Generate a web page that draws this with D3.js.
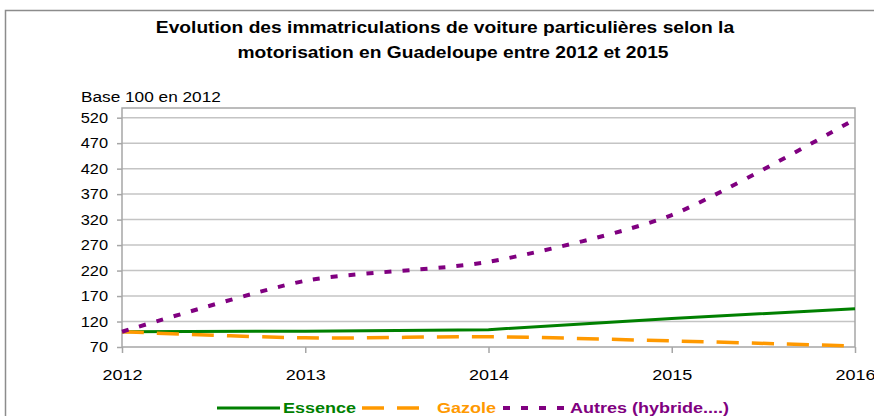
<!DOCTYPE html>
<meta charset="utf-8">
<head>
<title>Immatriculations Guadeloupe</title>
</head>
<style>
html, body { margin: 0; background: #fff; overflow: hidden; }
text { font-family: Arial, "Liberation Sans", sans-serif; }
</style>
<body>
<script src="https://d3js.org/d3.v7.min.js"></script>
<script>

// data (base 100 en 2012)
var years = [2012, 2013, 2014, 2015, 2016];
var essence = [100, 101, 104, 126, 145];
var gazole = [100, 88, 90, 82, 72];
var autres = [100, 200, 237, 329, 517];
var yTicks = [70, 120, 170, 220, 270, 320, 370, 420, 470, 520];

var width = 874, height = 416;
var svg = d3.select("body").append("svg")
    .attr("width", width)
    .attr("height", height);

// the reference glyphs look a bit wider than Arial, stretch them
function stretch(sel, k) {
    sel.each(function () {
        var w = this.getComputedTextLength();
        d3.select(this).attr("textLength", w * k).attr("lengthAdjust", "spacingAndGlyphs");
    });
}

// outer chart frame
svg.append("rect")
    .attr("x", 5.5).attr("y", 10.5)
    .attr("width", 880).attr("height", 420)
    .attr("fill", "none")
    .attr("stroke", "#8c8c8c")
    .attr("stroke-width", 1.5);

// title
var t1 = svg.append("text")
    .attr("x", 445).attr("y", 33)
    .attr("text-anchor", "middle")
    .attr("font-size", "16px")
    .attr("font-weight", "bold")
    .text("Evolution des immatriculations de voiture particulières selon la");
var t2 = svg.append("text")
    .attr("x", 453).attr("y", 58)
    .attr("text-anchor", "middle")
    .attr("font-size", "16px")
    .attr("font-weight", "bold")
    .text("motorisation en Guadeloupe entre 2012 et 2015");
stretch(t1, 1.2);
stretch(t2, 1.2);

var base = svg.append("text")
    .attr("x", 81).attr("y", 102)
    .attr("font-size", "14px")
    .text("Base 100 en 2012");
stretch(base, 1.23);

var left = 122, right = 855, plotTop = 108, bottom = 347;

var x = d3.scaleLinear().domain([2012, 2016]).range([left, right]);
var y = d3.scaleLinear().domain([70, 539]).range([bottom, plotTop]);

// gridlines
svg.append("g")
    .selectAll("line")
    .data(yTicks.slice(1))
    .enter().append("line")
    .attr("x1", left).attr("x2", right)
    .attr("y1", function (d) { return y(d); })
    .attr("y2", function (d) { return y(d); })
    .attr("stroke", "#c4c4c4")
    .attr("stroke-width", 1.5);

// plot frame
svg.append("rect")
    .attr("x", left).attr("y", plotTop)
    .attr("width", right - left).attr("height", bottom - plotTop)
    .attr("fill", "none")
    .attr("stroke", "#a6a6a6")
    .attr("stroke-width", 1.5);

// y axis
var yAxis = svg.append("g")
    .attr("transform", "translate(" + left + ",0)")
    .call(d3.axisLeft(y).tickValues(yTicks).tickSize(5).tickPadding(9));
yAxis.select(".domain").remove();
yAxis.selectAll("line").attr("stroke", "#a6a6a6").attr("stroke-width", 1.5);
yAxis.selectAll("text")
    .attr("font-size", "14px")
    .attr("font-family", "Arial, 'Liberation Sans', sans-serif")
    .attr("fill", "#000")
    .call(stretch, 1.17);

// x axis
var xAxis = svg.append("g")
    .attr("transform", "translate(0," + bottom + ")")
    .call(d3.axisBottom(x).tickValues(years).tickFormat(d3.format("d")).tickSize(6).tickPadding(27));
xAxis.select(".domain").remove();
xAxis.selectAll("line").attr("stroke", "#a6a6a6").attr("stroke-width", 1.5);
xAxis.selectAll("text")
    .attr("font-size", "15px")
    .attr("font-family", "Arial, 'Liberation Sans', sans-serif")
    .attr("fill", "#000")
    .attr("dy", "0")
    .call(stretch, 1.2);

var series = [
    { name: "Essence", values: essence, color: "#008000", dash: null, w: 3, curve: d3.curveLinear },
    { name: "Gazole", values: gazole, color: "#ff9900", dash: "22,13", w: 3.5, curve: d3.curveCardinal.tension(0) },
    { name: "Autres (hybride....)", values: autres, color: "#800080", dash: "7,11", w: 4, curve: d3.curveCardinal.tension(0.3) }
];

series.forEach(function (s) {
    var line = d3.line()
        .x(function (d, i) { return x(years[i]); })
        .y(function (d) { return y(d); })
        .curve(s.curve);
    svg.append("path")
        .datum(s.values)
        .attr("d", line)
        .attr("fill", "none")
        .attr("stroke", s.color)
        .attr("stroke-width", s.w)
        .attr("stroke-dasharray", s.dash);
});

// legend
var legendX = [217, 362, 503];
var legendTextX = [283, 437, 570];
var legend = svg.append("g");
series.forEach(function (s, i) {
    legend.append("line")
        .attr("x1", legendX[i]).attr("x2", legendX[i] + 63)
        .attr("y1", 408).attr("y2", 408)
        .attr("stroke", s.color)
        .attr("stroke-width", s.w)
        .attr("stroke-dasharray", s.dash);
    legend.append("text")
        .attr("x", legendTextX[i]).attr("y", 413)
        .attr("font-size", "15px")
        .attr("font-weight", "bold")
        .attr("fill", s.color)
        .text(s.name)
        .call(stretch, 1.2);
});

</script>
</body>
